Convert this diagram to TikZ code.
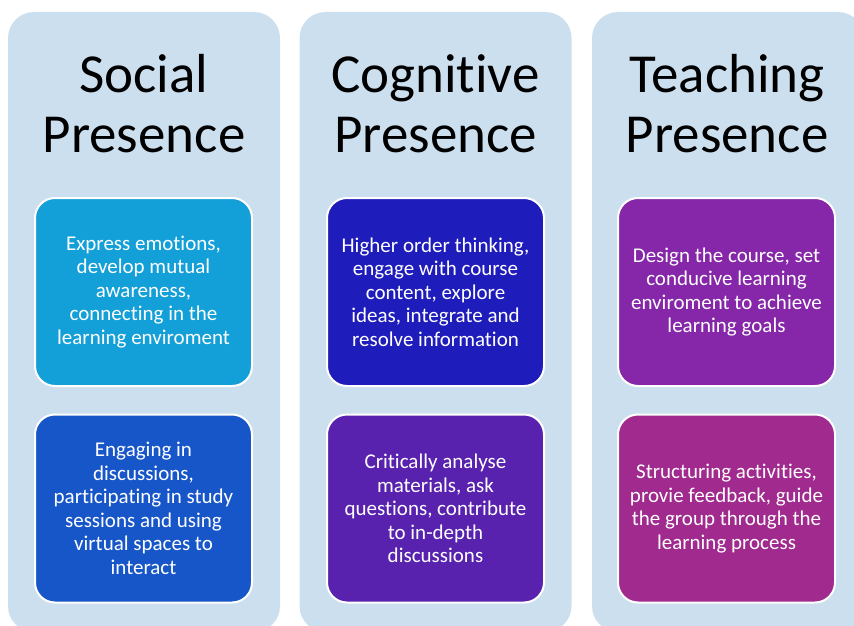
\documentclass[tikz,border=0pt]{standalone}
\usepackage{fontspec}
\setmainfont[Ligatures={NoCommon,NoContextual,NoRare},Contextuals=NoAlternate]{Carlito}
\definecolor{panelblue}{HTML}{CCDFEE}
\definecolor{socialA}{HTML}{139FD7}
\definecolor{socialB}{HTML}{1756C9}
\definecolor{cogA}{HTML}{1E1CBB}
\definecolor{cogB}{HTML}{5822AE}
\definecolor{teachA}{HTML}{8626A8}
\definecolor{teachB}{HTML}{A02A8D}
\begin{document}
\begin{tikzpicture}[x=1pt,y=-1pt,
  panel/.style={rectangle,fill=panelblue,rounded corners=26pt,minimum width=272pt,minimum height=620pt,inner sep=0pt},
  heading/.style={align=center,font=\fontsize{55}{60}\selectfont},
  card/.style={rectangle,draw=white,line width=2pt,rounded corners=20pt,minimum width=217pt,minimum height=188pt,inner sep=0pt,text=white,align=center,font=\fontsize{21}{23.5}\selectfont}]
\useasboundingbox (0,0) rectangle (854,626);
\clip (0,0) rectangle (854,626);

%columns
\node[panel] (social) at (144,322) {};
\node[panel] (cognitive) at (435.5,322) {};
\node[panel] (teaching) at (728,322) {};

\node[heading] (socialtitle) at (144,104) {Social\\Presence};
\node[heading] (cognitivetitle) at (435.5,104) {Cognitive\\Presence};
\node[heading] (teachingtitle) at (727,104) {Teaching\\Presence};

%upper cards
\node[card,fill=socialA] (social1) at (143.5,292) {Express emotions,\\develop mutual\\awareness,\\connecting in the\\learning enviroment};
\node[card,fill=cogA] (cognitive1) at (435.5,292) {Higher order thinking,\\engage with course\\content, explore\\ideas, integrate and\\resolve information};
\node[card,fill=teachA] (teaching1) at (726.5,292) {Design the course, set\\conducive learning\\enviroment to achieve\\learning goals};

%lower cards
\node[card,fill=socialB] (social2) at (143.5,508.5) {Engaging in\\discussions,\\participating in study\\sessions and using\\virtual spaces to\\interact};
\node[card,fill=cogB] (cognitive2) at (435.5,508.5) {Critically analyse\\materials, ask\\questions, contribute\\to in-depth\\discussions};
\node[card,fill=teachB] (teaching2) at (726.5,508.5) {Structuring activities,\\provie feedback, guide\\the group through the\\learning process};
\end{tikzpicture}
\end{document}
